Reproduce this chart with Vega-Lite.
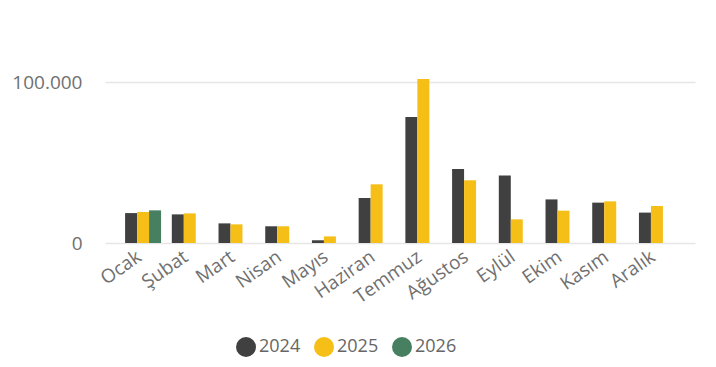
{
  "$schema": "https://vega.github.io/schema/vega-lite/v6.json",
  "width": 590,
  "height": 193,
  "autosize": "none",
  "padding": {"left": 105, "top": 50, "right": 21, "bottom": 124},
  "background": "white",
  "data": {
    "values": [
      {"month": "Ocak", "year": "2024", "value": 18600},
      {"month": "Ocak", "year": "2025", "value": 19300},
      {"month": "Ocak", "year": "2026", "value": 20300},
      {"month": "Şubat", "year": "2024", "value": 17800},
      {"month": "Şubat", "year": "2025", "value": 18400},
      {"month": "Mart", "year": "2024", "value": 12200},
      {"month": "Mart", "year": "2025", "value": 11600},
      {"month": "Nisan", "year": "2024", "value": 10400},
      {"month": "Nisan", "year": "2025", "value": 10400},
      {"month": "Mayıs", "year": "2024", "value": 1700},
      {"month": "Mayıs", "year": "2025", "value": 4100},
      {"month": "Haziran", "year": "2024", "value": 28000},
      {"month": "Haziran", "year": "2025", "value": 36500},
      {"month": "Temmuz", "year": "2024", "value": 78300},
      {"month": "Temmuz", "year": "2025", "value": 101900},
      {"month": "Ağustos", "year": "2024", "value": 46000},
      {"month": "Ağustos", "year": "2025", "value": 39000},
      {"month": "Eylül", "year": "2024", "value": 41900},
      {"month": "Eylül", "year": "2025", "value": 14700},
      {"month": "Ekim", "year": "2024", "value": 27100},
      {"month": "Ekim", "year": "2025", "value": 20100},
      {"month": "Kasım", "year": "2024", "value": 25100},
      {"month": "Kasım", "year": "2025", "value": 25900},
      {"month": "Aralık", "year": "2024", "value": 18900},
      {"month": "Aralık", "year": "2025", "value": 23000}
    ]
  },
  "mark": {"type": "bar"},
  "encoding": {
    "x": {
      "field": "month",
      "type": "nominal",
      "sort": ["Ocak", "Şubat", "Mart", "Nisan", "Mayıs", "Haziran", "Temmuz", "Ağustos", "Eylül", "Ekim", "Kasım", "Aralık"],
      "scale": {"paddingInner": 0.23, "paddingOuter": 0.43},
      "axis": {
        "title": null,
        "domain": false,
        "ticks": false,
        "labelAngle": -35,
        "labelFontSize": 19,
        "labelColor": "#707070",
        "labelFont": "Open Sans",
        "labelPadding": 4,
        "labelOffset": -9
      }
    },
    "xOffset": {
      "field": "year",
      "type": "nominal",
      "scale": {"paddingInner": 0, "paddingOuter": 0}
    },
    "y": {
      "field": "value",
      "type": "quantitative",
      "scale": {"domain": [0, 120000], "nice": false},
      "axis": {
        "title": null,
        "domain": false,
        "ticks": false,
        "values": [0, 100000],
        "labelExpr": "replace(format(datum.value, ','), ',', '.')",
        "labelFontSize": 19,
        "labelColor": "#707070",
        "labelFont": "Open Sans",
        "labelPadding": 23,
        "gridColor": "#E6E6E6",
        "gridWidth": 1.5
      }
    },
    "color": {
      "field": "year",
      "type": "nominal",
      "scale": {"domain": ["2024", "2025", "2026"], "range": ["#404040", "#F5BF18", "#468060"]},
      "legend": {
        "title": null,
        "orient": "none",
        "legendX": 131,
        "legendY": 287,
        "direction": "horizontal",
        "symbolType": "circle",
        "symbolSize": 400,
        "symbolStrokeWidth": 0,
        "labelFontSize": 18,
        "labelColor": "#666666",
        "labelFont": "Open Sans",
        "labelOffset": 3,
        "columnPadding": 13
      }
    }
  },
  "config": {
    "view": {"stroke": null}
  }
}
